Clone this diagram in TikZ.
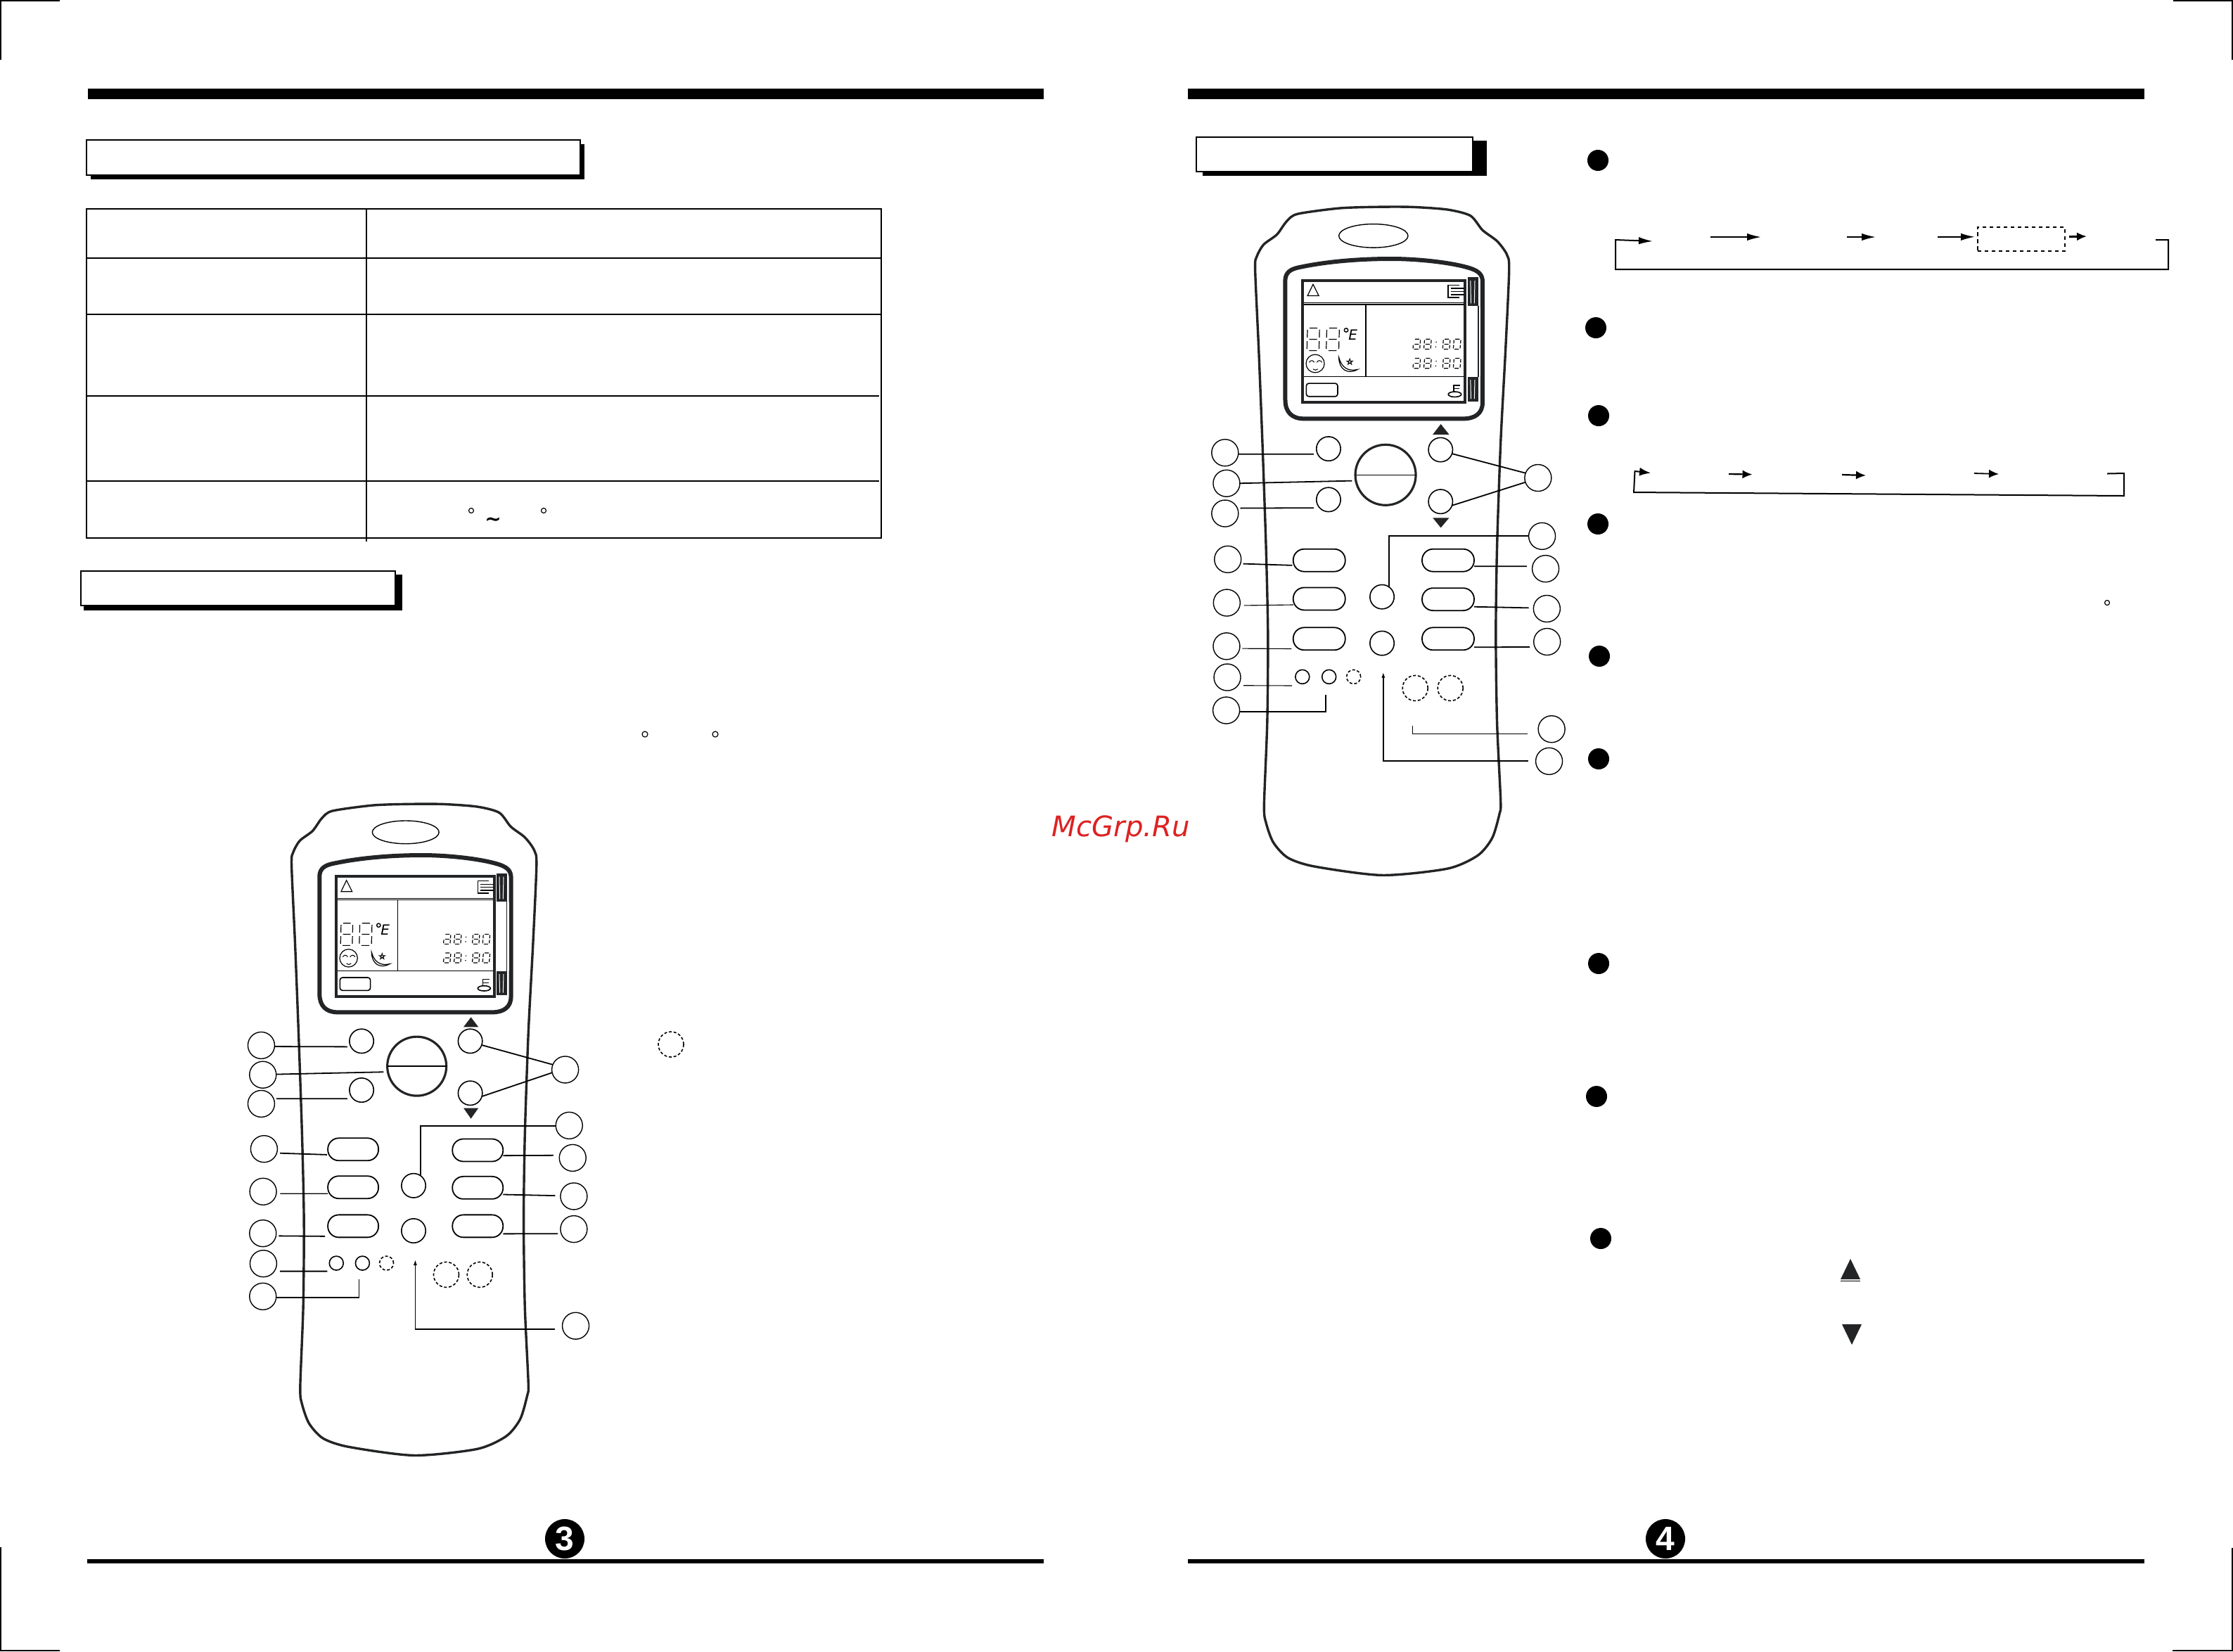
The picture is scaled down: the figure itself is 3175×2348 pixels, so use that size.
\documentclass[tikz,border=0pt]{standalone}
\usepackage{fontspec}
\usetikzlibrary{shapes.geometric,arrows.meta}
\newfontfamily\wmfont{DejaVu Sans}
\newfontfamily\numfont{Liberation Sans}
\definecolor{ink}{HTML}{222426}
\definecolor{wm}{HTML}{DD2222}
\tikzset{
  callout/.style={circle,draw=black,fill=white,minimum size=9.5pt,inner sep=0pt,outer sep=0pt,line width=.35pt},
  btn/.style={circle,draw=black,fill=white,minimum size=8.6pt,inner sep=0pt,outer sep=0pt,line width=.4pt},
  minibtn/.style={circle,draw=black,fill=white,minimum size=5pt,inner sep=0pt,outer sep=0pt,line width=.4pt},
  dashbtn/.style={circle,draw=black,fill=white,minimum size=9pt,inner sep=0pt,outer sep=0pt,line width=.4pt,dash pattern=on 1pt off .7pt},
  minidash/.style={minibtn,dash pattern=on 1pt off .7pt},
  pill/.style={rectangle,rounded corners=3.9pt,draw=black,fill=white,minimum width=18pt,minimum height=8pt,inner sep=0pt,outer sep=0pt,line width=.45pt},
  bigbtn/.style={circle,draw=ink,fill=white,minimum size=21pt,inner sep=0pt,outer sep=0pt,line width=.8pt},
  conn/.style={draw=black,line width=.45pt},
  thinconn/.style={draw=black,line width=.28pt},
  tipup/.style={-{Latex[length=2pt,width=1.3pt]}},
  flow/.style={draw=black,line width=.5pt,-{Latex[length=5pt,width=2.6pt]}},
  dotb/.style={circle,fill=black,minimum size=7.5pt,inner sep=0pt,outer sep=0pt},
  pagedot/.style={circle,fill=black,minimum size=14pt,inner sep=0pt,outer sep=0pt,text=white,font=\numfont\bfseries\fontsize{12}{12}\selectfont},
  titlebox/.style={draw=black,fill=white,line width=.4pt},
  deg/.style={draw=black,line width=.3pt},
  lcdline/.style={draw=black,line width=.4pt},
  seg/.style={draw=black,line width=.3pt},
}
% seven segment digits, unit square
\newcommand\segsix[5]{\begin{scope}[shift={(#1,#2)},xscale=#3,yscale=#4,xslant=#5]
 \draw[seg] (.18,0)--(.82,0) (.18,.5)--(.82,.5) (.18,1)--(.82,1) (1,.08)--(1,.42) (0,.58)--(0,.92) (1,.58)--(1,.92);
\end{scope}}
\newcommand\segeight[5]{\segsix{#1}{#2}{#3}{#4}{#5}\begin{scope}[shift={(#1,#2)},xscale=#3,yscale=#4,xslant=#5]
 \draw[seg] (0,.08)--(0,.42);\end{scope}}
\newcommand\segzero[5]{\begin{scope}[shift={(#1,#2)},xscale=#3,yscale=#4,xslant=#5]
 \draw[seg] (.18,0)--(.82,0) (.18,1)--(.82,1) (1,.08)--(1,.42) (0,.08)--(0,.42) (0,.58)--(0,.92) (1,.58)--(1,.92);
\end{scope}}
\newcommand\clockrow[1]{%
 \segsix{695}{#1}{28}{42}{.12}\segeight{740}{#1}{28}{42}{.12}
 \fill (788,#1+12) circle [radius=2.5];\fill (786,#1+32) circle [radius=2.5];
 \segeight{818}{#1}{28}{42}{.12}\segzero{862}{#1}{28}{42}{.12}}
% remote casing, in the coordinates of the left remote
\newcommand\rbody{%
 \draw[ink,line width=.85pt] plot[smooth cycle,tension=.45] coordinates {(745,22)(600,25)(430,38)(385,55)(345,85)(290,108)(262,135)(255,165)(270,350)(285,560)(300,800)(308,1000)(305,1200)(292,1390)(300,1430)(330,1475)(390,1510)(500,1530)(780,1550)(1050,1535)(1175,1505)(1235,1465)(1265,1410)(1270,1380)(1255,1200)(1250,1000)(1255,800)(1270,560)(1290,350)(1305,165)(1295,130)(1255,100)(1195,75)(1145,42)(1050,28)(900,22)};
 \draw[black,line width=.35pt] (744,88) ellipse [x radius=143,y radius=27];}
% display
\newcommand\rlcd{%
 \draw[ink,line width=1.5pt] (163,640) -- (163,135) .. controls (165,105) and (185,92) .. (215,85) .. controls (350,55) and (500,48) .. (600,48) .. controls (720,48) and (860,65) .. (930,88) .. controls (965,100) and (980,115) .. (980,145) -- (980,650) .. controls (980,695) and (950,718) .. (900,718) -- (240,718) .. controls (190,718) and (163,690) .. (163,640) -- cycle;
 \fill[white] (972,250) rectangle (915,540);
 \draw[ink,line width=.35pt] (962,245) -- (962,542);
 \fill[ink] (918,125) rectangle (962,245);
 \fill[ink] (918,542) rectangle (962,645);
 \draw[white,line width=.25pt] (930,140)--(932,235) (948,140)--(946,235) (930,555)--(932,635) (948,555)--(946,635);
 \draw[ink,line width=1pt,fill=white] (233,138) rectangle (908,650);
 \draw[lcdline] (240,232)--(903,232) (240,239)--(903,239) (240,542)--(903,542) (497,239)--(497,542);
 \draw[black,line width=.3pt] (255,203)--(302,203)--(278,155)--cycle;
 \draw[black,line width=.4pt] (885,158)--(838,158)--(838,210)--(885,210);
 \draw[black,line width=.35pt] (850,172)--(905,172) (850,185)--(905,185) (850,198)--(905,198);
 \segeight{255}{338}{50}{95}{.05}\segeight{335}{338}{52}{95}{.05}
 \draw[black,line width=.35pt] (415,347) circle [radius=8];
 \node[inner sep=0pt,font=\wmfont\itshape\fontsize{5}{5}\selectfont] at (443,367) {E};
 \draw[black,line width=.3pt] (287,487) circle [radius=38];
 \draw[black,line width=.25pt] (262,482) .. controls (268,472) and (278,472) .. (283,482) (293,482) .. controls (299,472) and (309,472) .. (315,482) (278,510) .. controls (283,516) and (293,516) .. (298,510);
 \draw[black,line width=.3pt] (385,462) .. controls (385,510) and (420,535) .. (462,512) .. controls (420,522) and (395,500) .. (385,462) -- cycle;
 \draw[black,line width=.2pt] (430,466)--(438,491)--(417,476)--(443,476)--(422,491)--cycle;
 \clockrow{385}\clockrow{465}
 \draw[black,line width=.4pt,rounded corners=.9pt] (250,570) rectangle (380,625);
 \draw[black,line width=.4pt] (865,616) ellipse [x radius=27,y radius=11];
 \draw[black,line width=.4pt] (860,605)--(860,578)--(888,578) (860,592)--(885,592);}
\begin{document}
\begin{tikzpicture}[x=0.25pt,y=-0.25pt]
\useasboundingbox (0,0) rectangle (3175,2348);
\fill[white] (0,0) rectangle (3175,2348);
% crop marks
\draw[black,line width=.5pt] (85,1)--(1,1)--(1,85) (3090,1)--(3174,1)--(3174,85) (1,2200)--(1,2347)--(85,2347) (3174,2201)--(3174,2347)--(3089,2347);
% page rules
\fill (125,126) rectangle (1484,141);
\fill (1689,126) rectangle (3049,141);
\fill (124,2217) rectangle (1484,2223);
\fill (1689,2217) rectangle (3049,2223);
\node[pagedot] (p3) at (803,2188) {3};
\node[pagedot] (p4) at (2368,2188) {4};
% title boxes
\fill (129,205) rectangle (831,255);
\draw[titlebox] (123,199) rectangle (825,249);
\fill (119,817) rectangle (572,868);
\draw[titlebox] (115,812) rectangle (562,861);
\fill (1710,200) rectangle (2114,250);
\draw[titlebox] (1701,195) rectangle (2094,244);
% table
\draw[black,line width=.55pt] (123,297) rectangle (1253,765);
\draw[black,line width=.65pt] (123,367)--(1253,367) (123,447)--(1253,447) (123,563)--(1250,563) (123,684)--(1250,684);
\draw[black,line width=.35pt] (521,297)--(521,770);
\draw[deg] (670,726) circle [radius=3.5] (773,726) circle [radius=3.5];
\node[inner sep=0pt,font=\wmfont\bfseries\fontsize{7}{7}\selectfont] (tilde) at (701,742) {\~{}};
\draw[deg] (917,1044) circle [radius=4] (1017,1044) circle [radius=4];
\node[dashbtn] (note) at (954,1485) {};
\draw[deg] (2996,857) circle [radius=3.5];
% watermark
\node[anchor=base west,inner sep=0pt,text=wm,font=\wmfont\itshape\fontsize{10.05}{10}\selectfont] (mark) at (1495,1189) {McGrp.Ru};
% bullets
\foreach \n/\px/\py in {b1/2272/228,b2/2269/466,b3/2273/591,b4/2272/745,b5/2274/933,b6/2273/1079,b7/2273/1370,b8/2270/1559,b9/2276/1761}
  \node[dotb] (\n) at (\px,\py) {};
\fill[ink] (2617,1819)--(2645,1819)--(2631,1790)--cycle;
\draw[black,line width=.25pt] (2617,1821)--(2645,1821);
\fill[ink] (2619,1883)--(2647,1883)--(2633,1912)--cycle;
% flow 1
\coordinate (f1s) at (3065,341);\coordinate (f1r) at (3083,341);\coordinate (f1q) at (3083,383);\coordinate (f1p) at (2297,383);\coordinate (f1o) at (2297,341);\coordinate (f1t) at (2350,343);
\draw[flow] (f1s)--(f1r)--(f1q)--(f1p)--(f1o)--(f1t);
\coordinate (a1) at (2432,337);\coordinate (a2) at (2504,337);\coordinate (a3) at (2626,337);\coordinate (a4) at (2667,337);\coordinate (a5) at (2755,337);\coordinate (a6) at (2967,336);
\node[rectangle,draw=black,line width=.5pt,dash pattern=on 1.3pt off 1.2pt,minimum width=31pt,minimum height=8.6pt,inner sep=0pt,outer sep=0pt] (mode) at (2874,340) {};
\draw[flow] (a1)--(a2);
\draw[flow] (a3)--(a4);
\draw[flow,shorten >=1pt] (a5)--(mode.177);
\draw[draw=black,line width=.75pt,-{Latex[length=3.5pt,width=3pt]},shorten <=1.5pt] (mode.3)--(a6);
% flow 2
\coordinate (g1) at (2996,673.5);\coordinate (g2) at (3020,673);\coordinate (g3) at (3020,705);\coordinate (g4) at (2323,700);\coordinate (g5) at (2324.5,670);\coordinate (g6) at (2347,672.5);
\draw[draw=black,line width=.5pt,-{Latex[length=4pt,width=3pt]}] (g1)--(g2)--(g3)--(g4)--(g5)--(g6);
\coordinate (h1) at (2458,674);\coordinate (h2) at (2491.5,674.6);\coordinate (h3) at (2619,675);\coordinate (h4) at (2653,676);\coordinate (h5) at (2807,673);\coordinate (h6) at (2842,674);
\draw[draw=black,line width=.55pt,-{Latex[length=3.5pt,width=3pt]}] (h1)--(h2);
\draw[draw=black,line width=.55pt,-{Latex[length=3.5pt,width=3pt]}] (h3)--(h4);
\draw[draw=black,line width=.45pt,-{Latex[length=3.5pt,width=3pt]}] (h5)--(h6);
% ================= LEFT REMOTE casing and display
\begin{scope}[shift={(330,1130)},x=0.08292pt,y=-0.15152pt]\rbody\end{scope}
\begin{scope}[shift={(400,1200)},x=0.08333pt,y=-0.08333pt]\rlcd\end{scope}
% ================= RIGHT REMOTE casing and display
\begin{scope}[shift={(1696.9,280.6)},x=0.08599pt,y=-0.15546pt]\rbody\end{scope}
\begin{scope}[shift={(1771.5,351.7)},x=0.08583pt,y=-0.08483pt]\rlcd\end{scope}
% ================= LEFT REMOTE controls (zoom coordinates)
\begin{scope}[shift={(330,1130)},x=0.08292pt,y=-0.15152pt]
\fill[ink] (992,545)--(1056,545)--(1024,522)--cycle;
\fill[ink] (992,735)--(1056,735)--(1024,760)--cycle;
\node[btn] (lb1) at (555,578) {};
\node[btn] (lb2) at (555,693) {};
\node[bigbtn] (lbig) at (792,637) {};
\draw[black,line width=.35pt] (lbig.west)--(lbig.east);
\node[btn] (lup) at (1021,578) {};
\node[btn] (ldn) at (1021,700) {};
\node[btn] (lc1) at (778,917) {};
\node[btn] (lc2) at (778,1023) {};
\node[pill] (lp1) at (519,832) {};
\node[pill] (lp2) at (519,921) {};
\node[pill] (lp3) at (519,1012) {};
\node[pill] (lp4) at (1053,834) {};
\node[pill] (lp5) at (1053,922) {};
\node[pill] (lp6) at (1053,1012) {};
\node[minibtn] (ls1) at (447,1099) {};
\node[minibtn] (ls2) at (559,1099) {};
\node[minidash] (ls3) at (662,1099) {};
\node[dashbtn] (ld1) at (918,1126) {};
\node[dashbtn] (ld2) at (1062,1126) {};
\node[callout] (lL1) at (125,588) {};
\node[callout] (lL2) at (132,657) {};
\node[callout] (lL3) at (125,725) {};
\node[callout] (lL4) at (137,831) {};
\node[callout] (lL5) at (133,931) {};
\node[callout] (lL6) at (132,1029) {};
\node[callout] (lL7) at (134,1100) {};
\node[callout] (lL8) at (132,1177) {};
\node[callout] (lR1) at (1428,645) {};
\node[callout] (lR2) at (1445,776) {};
\node[callout] (lR3) at (1460,852) {};
\node[callout] (lR4) at (1465,942) {};
\node[callout] (lR5) at (1465,1019) {};
\node[callout] (lR6) at (1473,1246) {};
\coordinate (lt7) at (408,1118);
\draw[conn,shorten >=1.25pt] (lL1.-5)--(lb1.-152);
\draw[conn,shorten >=1.5pt] (lL2.2)--(lbig.-169);
\draw[conn,shorten <=1pt,shorten >=2pt] (lL3.22)--(lb2.-135);
\draw[conn,shorten <=1.16pt,shorten >=.3pt] (lL4.-18)--(lp1.-168);
\draw[thinconn,shorten <=1.4pt] (lL5.-9)--(lp2.-166);
\draw[conn,shorten <=1pt,shorten >=1pt] (lL6.-11)--(lp3.-158);
\draw[conn,shorten <=2pt] (lL7.-35)--(lt7);
\draw[conn,shorten >=3.6pt] (lL8.-4)-|(ls2.-120);
\draw[conn] (lup.-19)--(lR1.158);
\draw[conn] (ldn.-16)--(lR1.-167);
\draw[conn] (lR2.-177)-|(lc1.54);
\draw[conn,shorten <=2.15pt] (lR3.169)--(lp4.-12);
\draw[conn,shorten <=1.9pt] (lR4.178)--(lp5.-15);
\draw[conn,shorten <=1.3pt] (lR5.-160)--(lp6.-17);
\draw[conn,tipup,shorten <=2.75pt,shorten >=6pt] (lR6.-165)-|(lc2.-82);
\end{scope}
% ================= RIGHT REMOTE controls (zoom coordinates)
\begin{scope}[shift={(1680,170)},x=0.08929pt,y=-0.17544pt]
\fill[ink] (1000,638)--(1065,638)--(1032,617)--cycle;
\fill[ink] (1000,807)--(1065,807)--(1032,827)--cycle;
\node[btn] (rb1) at (585,667) {};
\node[btn] (rb2) at (585,770) {};
\node[bigbtn,minimum size=21.5pt] (rbig) at (812,720) {};
\draw[black,line width=.35pt] (rbig.west)--(rbig.east);
\node[btn] (rup) at (1031,669) {};
\node[btn] (rdn) at (1031,774) {};
\node[btn] (rc1) at (798,967) {};
\node[btn] (rc2) at (798,1061) {};
\node[pill,minimum width=18.5pt] (rp1) at (548,893) {};
\node[pill,minimum width=18.5pt] (rp2) at (548,971) {};
\node[pill,minimum width=18.5pt] (rp3) at (548,1052) {};
\node[pill,minimum width=18.5pt] (rp4) at (1061,893) {};
\node[pill,minimum width=18.5pt] (rp5) at (1061,972) {};
\node[pill,minimum width=18.5pt] (rp6) at (1061,1052) {};
\node[minibtn] (rs1) at (481,1129) {};
\node[minibtn] (rs2) at (587,1129) {};
\node[minidash] (rs3) at (685,1129) {};
\node[dashbtn] (rd1) at (930,1152) {};
\node[dashbtn] (rd2) at (1070,1152) {};
\node[callout] (rL1) at (173,675) {};
\node[callout] (rL2) at (179,737) {};
\node[callout] (rL3) at (173,798) {};
\node[callout] (rL4) at (184,891) {};
\node[callout] (rL5) at (180,979) {};
\node[callout] (rL6) at (179,1067) {};
\node[callout] (rL7) at (182,1130) {};
\node[callout] (rL8) at (178,1197) {};
\node[callout] (rR1) at (1419,726) {};
\node[callout] (rR2) at (1435,844) {};
\node[callout] (rR3) at (1449,910) {};
\node[callout] (rR4) at (1454,991) {};
\node[callout] (rR5) at (1455,1058) {};
\node[callout] (rR6) at (1473,1235) {};
\node[callout] (rR7) at (1463,1300) {};
\coordinate (rt7) at (440,1147);
\draw[conn,shorten >=1.4pt] (rL1.-6)--(rb1.-154);
\draw[conn,shorten >=1.4pt] (rL2.0)--(rbig.-169);
\draw[conn,shorten <=1.07pt,shorten >=2.1pt] (rL3.23)--(rb2.-137);
\draw[conn,shorten <=1pt,shorten >=.35pt] (rL4.-19)--(rp1.-169);
\draw[thinconn,shorten <=1.5pt] (rL5.-12)--(rp2.-167);
\draw[thinconn,shorten <=.9pt,shorten >=.6pt] (rL6.-10)--(rp3.-159);
\draw[thinconn,shorten <=2pt] (rL7.-38)--(rt7);
\draw[conn,shorten >=4.2pt] (rL8.-6)-|(rs2.-120);
\draw[conn] (rup.-19)--(rR1.159);
\draw[conn] (rdn.-19)--(rR1.-161);
\draw[conn] (rR2.west)-|(rc1.54);
\draw[conn,shorten <=2pt] (rR3.170)--(rp4.-13);
\draw[conn,shorten <=1.7pt] (rR4.177)--(rp5.-16);
\draw[conn,shorten <=1.8pt] (rR5.-157)--(rp6.-18);
\draw[thinconn,shorten <=4.2pt,shorten >=9pt] (rR6.-159)-|(rd1.-103);
\draw[conn,tipup,shorten <=2.7pt,shorten >=6pt] (rR7.178)-|(rc2.-84);
\end{scope}
\end{tikzpicture}
\end{document}
